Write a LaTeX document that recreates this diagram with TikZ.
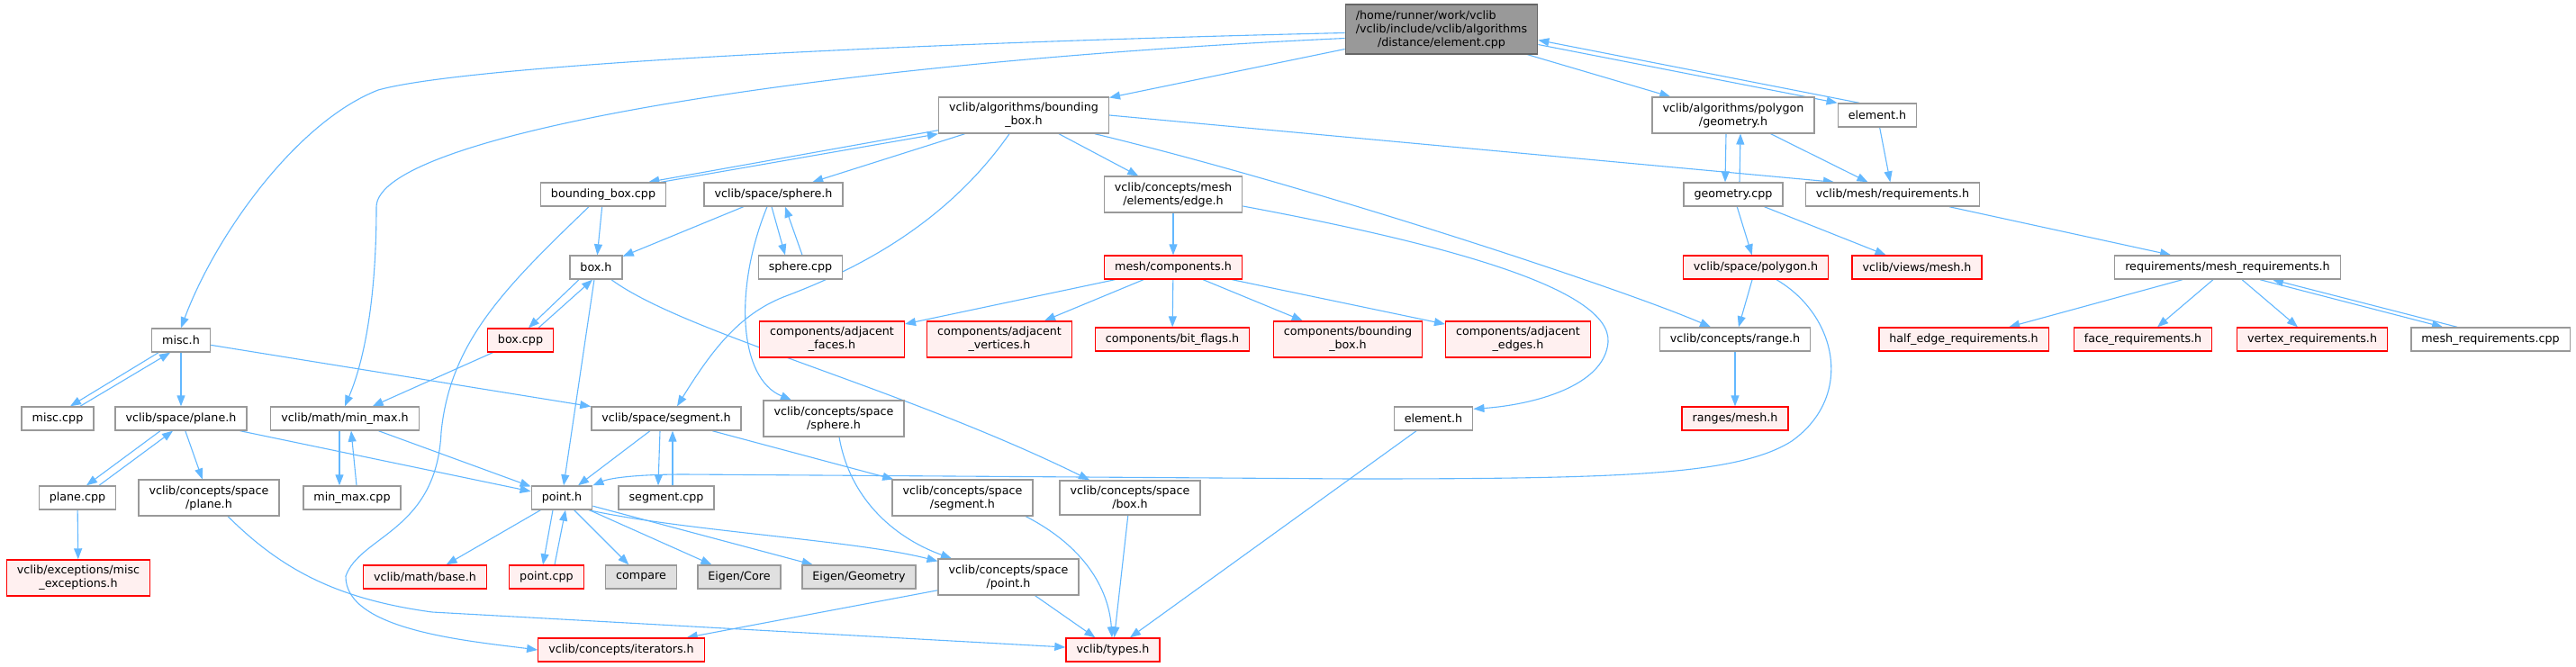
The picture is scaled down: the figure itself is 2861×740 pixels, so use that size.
\documentclass[tikz,border=0pt]{standalone}
\usepackage{fontspec}
\setmainfont{DejaVu Sans}
\usepackage{tikz}
\usetikzlibrary{arrows.meta,backgrounds}
\usepackage{xcolor}
\definecolor{DoxEdge}{HTML}{63B8FF}
\definecolor{DoxBorder}{HTML}{999999}
\definecolor{DoxMainFill}{HTML}{999999}
\definecolor{DoxMainBorder}{HTML}{666666}
\definecolor{DoxTruncFill}{HTML}{FFF0F0}
\definecolor{DoxTruncBorder}{HTML}{FF0000}
\definecolor{DoxExtFill}{HTML}{E0E0E0}
\tikzset{
  incl/.style={-{Triangle[length=12pt,width=9pt]},line width=1.1pt,draw=DoxEdge},
  hdr/.style={draw=DoxBorder,line width=1.4pt,fill=white,inner xsep=11.5pt,inner ysep=6.2pt,minimum height=26pt,align=center,font=\fontsize{12.7}{15}\selectfont},
  trunc/.style={hdr,draw=DoxTruncBorder,fill=DoxTruncFill},
  ext/.style={hdr,fill=DoxExtFill},
  focus/.style={hdr,draw=DoxMainBorder,fill=DoxMainFill}
}

\begin{document}
\begin{tikzpicture}[x=1pt,y=1pt]
  \useasboundingbox (0,0) rectangle (2861,-740);
  % header nodes, row by row
  \node[focus] (main) at (1601,-32.5) {\rlap{/home/runner/work/vclib}\phantom{/vclib/include/vclib/algorithms}\\/vclib/include/vclib/algorithms\\/distance/element.cpp};
  \node[hdr] (bboxh) at (1137,-128) {vclib/algorithms/bounding\\\_box.h};
  \node[hdr] (geomh) at (1925,-128) {vclib/algorithms/polygon\\/geometry.h};
  \node[hdr] (elemtop) at (2085,-128) {element.h};
  \node[hdr] (bboxcpp) at (670,-216) {bounding\_box.cpp};
  \node[hdr] (sphereh) at (859,-216) {vclib/space/sphere.h};
  \node[hdr] (edgeh) at (1303,-216) {vclib/concepts/mesh\\/elements/edge.h};
  \node[hdr] (geomcpp) at (1925,-216) {geometry.cpp};
  \node[hdr] (meshreq) at (2102,-216) {vclib/mesh/requirements.h};
  \node[hdr] (boxh) at (662,-297) {box.h};
  \node[hdr] (spherecpp) at (889,-297) {sphere.cpp};
  \node[trunc] (meshcomp) at (1303,-297) {mesh/components.h};
  \node[trunc] (polygonh) at (1950,-297) {vclib/space/polygon.h};
  \node[trunc] (viewsmesh) at (2129,-297) {vclib/views/mesh.h};
  \node[hdr] (meshreqh) at (2474,-297) {requirements/mesh\_requirements.h};
  \node[hdr] (misch) at (201,-378) {misc.h};
  \node[trunc] (boxcpp) at (578,-378) {box.cpp};
  \node[trunc] (adjfaces) at (924,-377) {components/adjacent\\\_faces.h};
  \node[trunc] (adjverts) at (1110,-377) {components/adjacent\\\_vertices.h};
  \node[trunc] (bitflags) at (1302,-377) {components/bit\_flags.h};
  \node[trunc] (compbbox) at (1497,-377) {components/bounding\\\_box.h};
  \node[trunc] (adjedges) at (1686,-377) {components/adjacent\\\_edges.h};
  \node[hdr] (rangeh) at (1927,-377) {vclib/concepts/range.h};
  \node[trunc] (halfedge) at (2181,-377) {half\_edge\_requirements.h};
  \node[trunc] (facereq) at (2380,-377) {face\_requirements.h};
  \node[trunc] (vertreq) at (2568,-377) {vertex\_requirements.h};
  \node[hdr] (meshreqcpp) at (2766,-377) {mesh\_requirements.cpp};
  \node[hdr] (misccpp) at (64,-465) {misc.cpp};
  \node[hdr] (planeh) at (201,-465) {vclib/space/plane.h};
  \node[hdr] (minmaxh) at (383,-465) {vclib/math/min\_max.h};
  \node[hdr] (segmenth) at (740,-465) {vclib/space/segment.h};
  \node[hdr] (csphereh) at (926,-465) {vclib/concepts/space\\/sphere.h};
  \node[hdr] (elemlow) at (1592,-465) {element.h};
  \node[trunc] (rangesmesh) at (1927,-465) {ranges/mesh.h};
  \node[hdr] (planecpp) at (86,-553) {plane.cpp};
  \node[hdr] (cplaneh) at (232,-553) {vclib/concepts/space\\/plane.h};
  \node[hdr] (minmaxcpp) at (391,-553) {min\_max.cpp};
  \node[hdr] (pointh) at (624,-553) {point.h};
  \node[hdr] (segmentcpp) at (740,-553) {segment.cpp};
  \node[hdr] (csegmenth) at (1069,-553) {vclib/concepts/space\\/segment.h};
  \node[hdr] (cboxh) at (1255,-553) {vclib/concepts/space\\/box.h};
  \node[trunc] (miscexc) at (87,-642) {vclib/exceptions/misc\\\_exceptions.h};
  \node[trunc] (baseh) at (472,-641) {vclib/math/base.h};
  \node[trunc] (pointcpp) at (607,-641) {point.cpp};
  \node[ext] (compare) at (712,-641) {compare};
  \node[ext] (eigencore) at (821,-641) {Eigen/Core};
  \node[ext] (eigengeom) at (954,-641) {Eigen/Geometry};
  \node[hdr] (cpointh) at (1120,-641) {vclib/concepts/space\\/point.h};
  \node[trunc] (iterators) at (690,-722) {vclib/concepts/iterators.h};
  \node[trunc] (typesh) at (1236,-722) {vclib/types.h};

  \begin{scope}[on background layer]
    \fill[white] (0,0) rectangle (2861,-740);
    \foreach \src/\dst in {main/bboxh,main/geomh,bboxh/sphereh,bboxh/edgeh,
        bboxcpp/boxh,sphereh/boxh,boxh/pointh,boxcpp/minmaxh,misch/planeh,misch/segmenth,
        planeh/cplaneh,planeh/pointh,planecpp/miscexc,minmaxh/pointh,segmenth/pointh,
        segmenth/csegmenth,pointh/baseh,pointh/compare,pointh/eigencore,pointh/eigengeom,
        cboxh/typesh,cpointh/typesh,cpointh/iterators,elemlow/typesh,edgeh/meshcomp,
        meshcomp/adjfaces,meshcomp/adjverts,meshcomp/bitflags,meshcomp/compbbox,meshcomp/adjedges,
        geomh/meshreq,elemtop/meshreq,geomcpp/polygonh,geomcpp/viewsmesh,polygonh/rangeh,
        rangeh/rangesmesh,meshreq/meshreqh,meshreqh/halfedge,meshreqh/facereq,meshreqh/vertreq}
      \draw[incl] (\src) -- (\dst);
    \draw[incl] (bboxh.east) -- ([xshift=-65]meshreq.north);

    % two-way includes
    \draw[incl] ([yshift=-17]main.east) -- (elemtop.north west);
    \draw[incl] ([xshift=-20]elemtop.north) -- ([yshift=-12]main.east);
    \draw[incl] ([yshift=4]bboxh.south west) -- ([xshift=-20]bboxcpp.north east);
    \draw[incl] ([xshift=-6]bboxcpp.north east) -- (bboxh.south west);
    \draw[incl] ([xshift=-2]sphereh.south) -- ([xshift=-17]spherecpp.north);
    \draw[incl] ([xshift=2]spherecpp.north) -- ([xshift=13]sphereh.south);
    \draw[incl] ([xshift=-19]boxh.south) -- ([xshift=9]boxcpp.north);
    \draw[incl] ([xshift=20]boxcpp.north) -- ([xshift=-4]boxh.south);
    \draw[incl] ([xshift=-25]misch.south) -- ([xshift=14]misccpp.north);
    \draw[incl] ([xshift=25]misccpp.north) -- ([xshift=-12]misch.south);
    \draw[incl] ([xshift=-23]planeh.south) -- ([xshift=10]planecpp.north);
    \draw[incl] ([xshift=24]planecpp.north) -- ([xshift=-9]planeh.south);
    \draw[incl] ([xshift=-6]minmaxh.south) -- ([xshift=-14]minmaxcpp.north);
    \draw[incl] ([xshift=5]minmaxcpp.north) -- ([xshift=7]minmaxh.south);
    \draw[incl] ([xshift=-7]segmenth.south) -- ([xshift=-9]segmentcpp.north);
    \draw[incl] ([xshift=7]segmentcpp.north) -- ([xshift=7]segmenth.south);
    \draw[incl] ([xshift=-10]pointh.south) -- ([xshift=-4]pointcpp.north);
    \draw[incl] ([xshift=9]pointcpp.north) -- ([xshift=4]pointh.south);
    \draw[incl] ([xshift=-8]geomh.south) -- ([xshift=-9]geomcpp.north);
    \draw[incl] ([xshift=7]geomcpp.north) -- ([xshift=8]geomh.south);
    \draw[incl] ([xshift=36]meshreqh.south) -- ([xshift=-53]meshreqcpp.north);
    \draw[incl] ([xshift=-37]meshreqcpp.north) -- ([xshift=50]meshreqh.south);

    % long routed edges
    \draw[incl] ([yshift=-4]main.west) .. controls (1000,-48) and (520,-72) .. (420,-100)
      .. controls (330,-135) and (240,-260) .. (misch.north);
    \draw[incl] ([yshift=-10]main.west) .. controls (900,-70) and (418,-150) .. (418,-230)
      .. controls (418,-330) and (405,-400) .. (minmaxh.north);
    \draw[incl] ([xshift=-16]bboxh.south) .. controls (1050,-250) and (950,-300) .. (870,-330)
      .. controls (820,-350) and (790,-390) .. ([xshift=12]segmenth.north);
    \draw[incl] ([xshift=79]bboxh.south) .. controls (1450,-205) and (1800,-320) .. ([xshift=-27]rangeh.north);
    \draw[incl] ([xshift=-16]bboxcpp.south) .. controls (560,-320) and (500,-380) .. (490,-480)
      .. controls (485,-590) and (400,-595) .. (384,-640)
      .. controls (383,-700) and (520,-712) .. (iterators.west);
    \draw[incl] ([xshift=-7]sphereh.south) .. controls (815,-320) and (820,-420) .. ([xshift=-47]csphereh.north);
    \draw[incl] ([xshift=17]boxh.south) .. controls (760,-370) and (1000,-430) .. ([xshift=-45]cboxh.north);
    \draw[incl] ([xshift=21]cplaneh.south) .. controls (310,-630) and (370,-665) .. (480,-680)
      -- ([yshift=3]typesh.west);
    \draw[incl] ([xshift=30]pointh.south) .. controls (760,-590) and (950,-600) .. ([yshift=-3]cpointh.north west);
    \draw[incl] ([xshift=23]polygonh.south) .. controls (2040,-350) and (2060,-440) .. (1990,-490)
      .. controls (1930,-528) and (1800,-532) .. (1500,-532) -- (760,-527)
      .. controls (700,-527) and (675,-532) .. (pointh.north east);
    \draw[incl] ([xshift=6]csphereh.south) .. controls (945,-560) and (1000,-600) .. ([xshift=-63]cpointh.north);
    \draw[incl] ([xshift=70]csegmenth.south) .. controls (1210,-610) and (1232,-660) .. ([xshift=-1]typesh.north);
    \draw[incl] ([yshift=-13]edgeh.east) .. controls (1600,-270) and (1790,-320) .. (1786,-380)
      .. controls (1782,-430) and (1700,-450) .. ([yshift=-3]elemlow.north east);
  \end{scope}
\end{tikzpicture}
\end{document}
